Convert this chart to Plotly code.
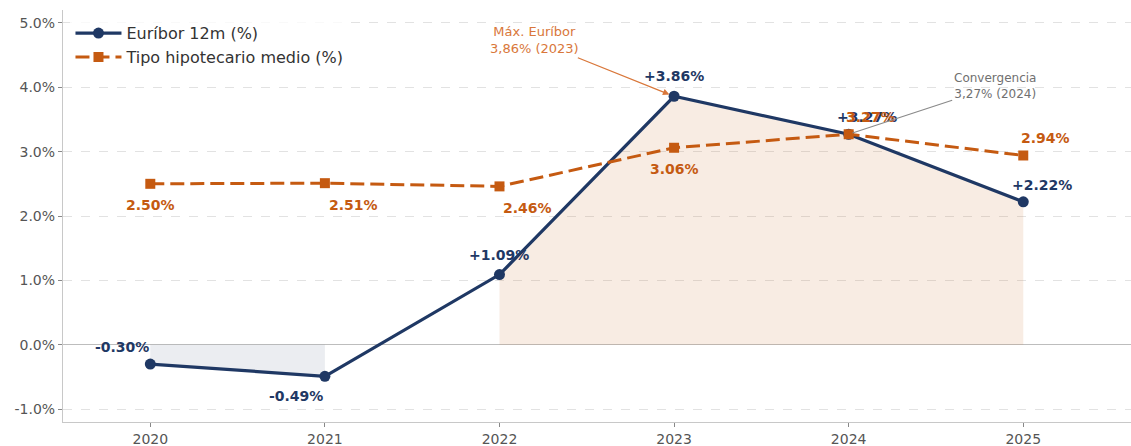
import plotly.graph_objects as go

# Annual series
years = [2020, 2021, 2022, 2023, 2024, 2025]
euribor = [-0.30, -0.49, 1.09, 3.86, 3.27, 2.22]
hipotecario = [2.50, 2.51, 2.46, 3.06, 3.27, 2.94]

y_ticks = [-1.0, 0.0, 1.0, 2.0, 3.0, 4.0, 5.0]

NAVY = "#1f3864"
ORANGE = "#c55a11"
FONT = "DejaVu Sans"

# pixel offsets (dx right, dy down) of each value label from its point
eur_offsets = [(-28, -17), (-29, 20), (0, -20), (0, -20), (18, -17), (19, -17)]
hip_offsets = [(0, 21), (29, 22), (28, 22), (0, 21), (22, -17), (22, -17)]

fig = go.Figure()

# shaded areas between the Euríbor curve and zero
fig.add_trace(go.Scatter(
    x=years[:2], y=euribor[:2], mode="lines", line=dict(width=0),
    fill="tozeroy", fillcolor="rgba(31,56,100,0.09)",
    showlegend=False, hoverinfo="skip"))
fig.add_trace(go.Scatter(
    x=years[2:], y=euribor[2:], mode="lines", line=dict(width=0),
    fill="tozeroy", fillcolor="rgba(210,130,70,0.15)",
    showlegend=False, hoverinfo="skip"))

fig.add_trace(go.Scatter(
    x=years, y=euribor, mode="lines+markers", name="Euríbor 12m (%)",
    line=dict(color=NAVY, width=3.2),
    marker=dict(symbol="circle", size=11, color=NAVY)))
fig.add_trace(go.Scatter(
    x=years, y=hipotecario, mode="lines+markers", name="Tipo hipotecario medio (%)",
    line=dict(color=ORANGE, width=3, dash="14px,6px"),
    marker=dict(symbol="square", size=10, color=ORANGE)))

annotations = []
for x, v, (dx, dy) in zip(years, euribor, eur_offsets):
    annotations.append(dict(
        x=x, y=v, text=f"<b>{v:+.2f}%</b>", showarrow=False,
        xshift=dx, yshift=-dy, font=dict(family=FONT, size=14, color=NAVY)))
for x, v, (dx, dy) in zip(years, hipotecario, hip_offsets):
    annotations.append(dict(
        x=x, y=v, text=f"<b>{v:.2f}%</b>", showarrow=False,
        xshift=dx, yshift=-dy, font=dict(family=FONT, size=14, color=ORANGE)))

# callouts
annotations.append(dict(
    x=years[3], y=euribor[3], text="Máx. Euríbor<br>3,86% (2023)",
    showarrow=True, ax=-140, ay=-56, arrowhead=2, arrowsize=1, arrowwidth=1.3,
    arrowcolor="#d9773a", standoff=5,
    font=dict(family=FONT, size=13, color="#d9773a")))
annotations.append(dict(
    x=years[4], y=hipotecario[4], text="Convergencia<br>3,27% (2024)",
    showarrow=True, ax=146, ay=-48, arrowhead=0, arrowwidth=1.2,
    arrowcolor="#8a8a8a", standoff=4,
    font=dict(family=FONT, size=12, color="#707070")))

fig.update_layout(
    width=1131, height=446,
    margin=dict(l=63, r=0, t=10, b=24),
    paper_bgcolor="white", plot_bgcolor="white",
    font=dict(family=FONT, size=14, color="#555555"),
    annotations=annotations,
    showlegend=True,
    legend=dict(x=0.007, y=0.985, xanchor="left", yanchor="top",
                bgcolor="rgba(255,255,255,0.8)", borderwidth=0,
                itemwidth=46,
                font=dict(family=FONT, size=16, color="#333333"),
                tracegroupgap=2),
)

fig.update_xaxes(
    range=[2019.5, 2025.617], tickmode="array", tickvals=years,
    ticktext=[str(y) for y in years],
    showgrid=False, zeroline=False,
    showline=True, linecolor="#c8c8c8", linewidth=1.2,
    ticks="outside", ticklen=4, tickcolor="#888888",
    tickfont=dict(family=FONT, size=14, color="#555555"))
fig.update_yaxes(
    range=[-1.2, 5.2], tickmode="array", tickvals=y_ticks,
    ticktext=[f"{t:.1f}%" for t in y_ticks],
    showgrid=True, gridcolor="#e2e2e2", griddash="dash", gridwidth=1,
    zeroline=True, zerolinecolor="#bdbdbd", zerolinewidth=1.2,
    showline=True, linecolor="#c8c8c8", linewidth=1.2,
    ticks="outside", ticklen=4, tickcolor="#888888",
    tickfont=dict(family=FONT, size=14, color="#555555"))

fig.write_html("out.html")
